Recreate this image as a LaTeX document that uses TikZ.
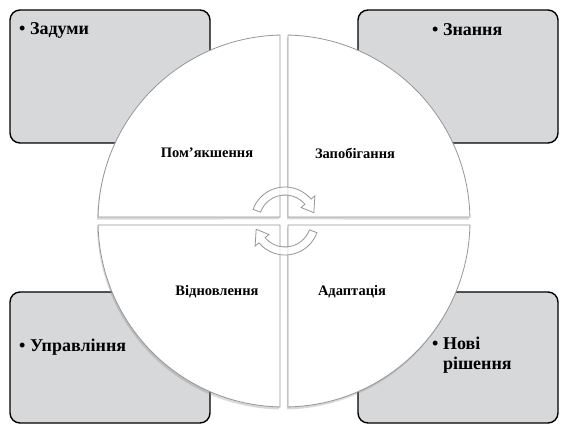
\documentclass[tikz,border=0pt]{standalone}
\usepackage{fontspec}
\setmainfont{Liberation Serif}
\usetikzlibrary{shadows}
\definecolor{boxgray}{RGB}{215,216,218}
\definecolor{rimgray}{RGB}{150,150,152}
% one of the two turning arrows in the middle, turned by #1 degrees
\newcommand{\turnarrow}[1]{%
    \begin{scope}[shift={(285,205)}, rotate=#1]
        \filldraw[turn] (160:34) arc[start angle=160, end angle=40, radius=34]
            -- (40:39) -- (16:30) -- (40:21) -- (40:26)
            arc[start angle=40, end angle=160, radius=26] -- cycle;
    \end{scope}
}

\begin{document}
\begin{tikzpicture}[x=1pt, y=1pt,
        corner/.style={draw=black, line width=1.4pt, fill=boxgray, rounded corners=10pt},
        wheel/.style={fill=white, draw=rimgray, line width=0.8pt,
            drop shadow={opacity=0.3, shadow xshift=-1pt, shadow yshift=-2.5pt}},
        turn/.style={fill=white, fill opacity=0.75, draw=rimgray, line width=0.8pt},
        tag/.style={font=\fontsize{18}{20}\selectfont\bfseries, inner sep=0pt},
        part/.style={font=\fontsize{14.5}{16}\selectfont\bfseries, inner sep=0pt},
    ]
    \useasboundingbox (0,0) rectangle (565,426);

    % Corner boxes
    \draw[corner] (10,283) rectangle (210,416);
    \draw[corner] (358,283) rectangle (558,416);
    \draw[corner] (10,3) rectangle (210,134);
    \draw[corner] (358,3) rectangle (558,134);

    % Wheel: four quarters with a white gap between them
    \begin{scope}[shift={(284,205)}]
        \foreach \a in {0,90,180,270}
        \filldraw[wheel] (\a+45:5.66) -- (\a+1.23:186)
            arc[start angle=\a+1.23, delta angle=87.54, radius=186] -- cycle;
    \end{scope}

    % Turning arrows
    \turnarrow{0}
    \turnarrow{180}

    % Quarter labels
    \node[part] (pom) at (207,273) {Пом’якшення};
    \node[part] (zap) at (355,273) {Запобігання};
    \node[part] (vid) at (217,134) {Відновлення};
    \node[part] (adap) at (352,134) {Адаптація};

    % Box labels
    \node[tag, anchor=west] (zad) at (19,396) {• Задуми};
    \node[tag, anchor=west] (zna) at (432,396) {• Знання};
    \node[tag, anchor=west] (upr) at (19,79) {• Управління};
    \node[tag, anchor=west, align=left] (nov) at (432,71) {• Нові\\\hphantom{• }рішення};
\end{tikzpicture}
\end{document}
